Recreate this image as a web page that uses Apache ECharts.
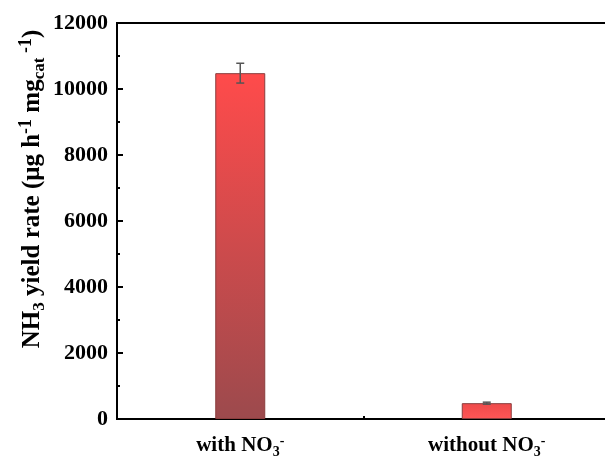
<!DOCTYPE html>
<html>
<head>
<meta charset="utf-8">
<script src="https://cdn.jsdelivr.net/npm/echarts@6/dist/echarts.min.js"></script>
<style>html,body{margin:0;padding:0;background:#fff}#c{width:605px;height:466px}</style>
</head>
<body>
<div id="c"></div>
<script>
var categories = ['with', 'without'];
var values = [10480, 480];
var errors = [300, 30];
var yTicks = [0, 2000, 4000, 6000, 8000, 10000, 12000];

var FONT = '"Liberation Serif", "Times New Roman", serif';
var chart = echarts.init(document.getElementById('c'));

var barColors = [
  new echarts.graphic.LinearGradient(0, 0, 0, 1, [
    {offset: 0, color: '#FF4B4B'},
    {offset: 1, color: '#9C4A4D'}
  ]),
  new echarts.graphic.LinearGradient(0, 0, 0, 1, [
    {offset: 0, color: '#EE4A4A'},
    {offset: 1, color: '#FF5656'}
  ])
];

var titleRich = {
  b: {fontFamily: FONT, fontWeight: 'bold', fontSize: 25, fill: '#000', color: '#000'},
  sub: {fontFamily: FONT, fontWeight: 'bold', fontSize: 17, fill: '#000', color: '#000', padding: [13, 0, 0, 0]},
  sup: {fontFamily: FONT, fontWeight: 'bold', fontSize: 18, fill: '#000', color: '#000', padding: [0, 0, 13, 0]}
};

var option = {
  animation: false,
  backgroundColor: '#fff',
  grid: {left: 117, width: 493, top: 23, bottom: 47, outerBoundsMode: 'none', containLabel: false, show: true, borderColor: '#000', borderWidth: 2, backgroundColor: 'transparent'},
  graphic: [{
    type: 'text',
    x: 33, y: 189,
    rotation: Math.PI / 2,
    style: {
      text: '{b|NH}{sub|3}{b| yield rate (μg h}{sup|-1}{b| mg}{sub|cat}{sup| -1}{b|)}',
      rich: titleRich,
      align: 'center',
      verticalAlign: 'middle'
    }
  }],
  xAxis: [{
    type: 'category',
    data: categories,
    axisLine: {lineStyle: {color: '#000', width: 2}},
    axisTick: {show: true, inside: true, alignWithLabel: true, length: 7, lineStyle: {color: '#000', width: 2}},
    axisLabel: {
      margin: 14,
      formatter: function (v) { return '{b|' + v + ' NO}{sub|3}{sup|-}'; },
      rich: {
        b: {fontFamily: FONT, fontWeight: 'bold', fontSize: 21, color: '#000'},
        sub: {fontFamily: FONT, fontWeight: 'bold', fontSize: 14, color: '#000', padding: [12, 0, 0, 0]},
        sup: {fontFamily: FONT, fontWeight: 'bold', fontSize: 14, color: '#000', padding: [0, 0, 10, 0]}
      }
    }
  }, {
    type: 'category',
    data: categories,
    position: 'bottom',
    axisLine: {show: false},
    axisTick: {show: true, inside: true, length: 3, lineStyle: {color: '#000', width: 2}},
    axisLabel: {show: false}
  }],
  yAxis: {
    type: 'value',
    min: 0, max: 12000, interval: 2000,
    axisLine: {show: true, lineStyle: {color: '#000', width: 2}},
    axisTick: {show: true, inside: true, length: 6, lineStyle: {color: '#000', width: 2}},
    minorTick: {show: true, splitNumber: 2, length: 3, lineStyle: {color: '#000', width: 2}},
    splitLine: {show: false},
    axisLabel: {fontFamily: FONT, fontWeight: 'bold', fontSize: 22, color: '#000', margin: 9,
      formatter: function (v) { return yTicks.indexOf(v) >= 0 ? String(v) : ''; }}
  },
  series: [{
    type: 'bar',
    barWidth: 50,
    data: values.map(function (v, i) {
      return {value: v, itemStyle: {color: barColors[i], borderColor: '#8a3d3d', borderWidth: 1}};
    })
  }, {
    type: 'custom',
    data: values.map(function (v, i) { return [i, v - errors[i], v + errors[i]]; }),
    renderItem: function (params, api) {
      var lo = api.coord([api.value(0), api.value(1)]);
      var hi = api.coord([api.value(0), api.value(2)]);
      var hw = 4;
      var st = {stroke: '#555', lineWidth: 1.5};
      return {type: 'group', children: [
        {type: 'line', shape: {x1: hi[0], y1: hi[1], x2: lo[0], y2: lo[1]}, style: st},
        {type: 'line', shape: {x1: hi[0] - hw, y1: hi[1], x2: hi[0] + hw, y2: hi[1]}, style: st},
        {type: 'line', shape: {x1: lo[0] - hw, y1: lo[1], x2: lo[0] + hw, y2: lo[1]}, style: st}
      ]};
    },
    z: 5
  }]
};
chart.setOption(option);
</script>
</body>
</html>
